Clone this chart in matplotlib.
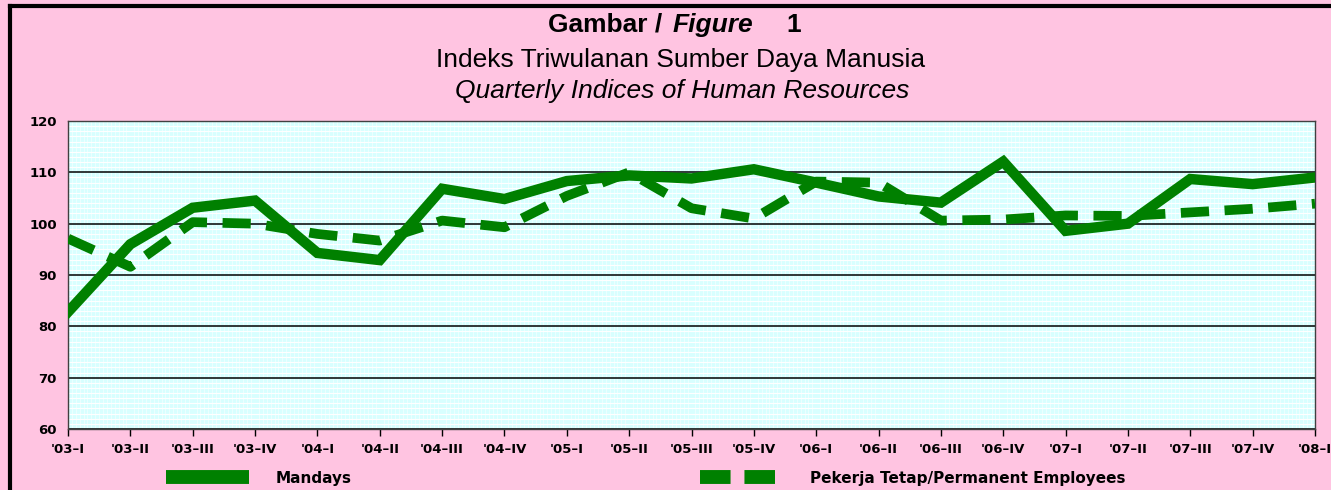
import matplotlib.pyplot as plt
from matplotlib.lines import Line2D
import numpy as np

# quarter labels on the x axis
quarters = ["'03–I", "'03–II", "'03–III", "'03–IV", "'04–I", "'04–II", "'04–III", "'04–IV",
            "'05–I", "'05–II", "'05–III", "'05–IV", "'06–I", "'06–II", "'06–III", "'06–IV",
            "'07–I", "'07–II", "'07–III", "'07–IV", "'08–I"]

mandays = [82.8, 96.0, 103.1, 104.5, 94.3, 92.9, 106.8, 104.8, 108.3, 109.4, 108.8,
           110.6, 108.0, 105.3, 104.1, 112.1, 98.6, 100.0, 108.7, 107.7, 109.0]
permanent = [97.1, 91.6, 100.3, 100.0, 98.0, 96.7, 100.6, 99.3, 105.4, 110.0, 103.0,
             101.0, 108.2, 108.0, 100.6, 100.8, 101.6, 101.5, 102.2, 102.9, 103.9]

pink = '#ffc4e1'
cyan = '#d8ffff'
green = '#008000'

fig = plt.figure(figsize=(13.31, 4.9), dpi=100, facecolor=pink)
ax = fig.add_axes([68/1331, 1-429/490, (1315-68)/1331, (429-121)/490])
ax.set_facecolor(cyan)

x = np.arange(len(quarters))
ax.plot(x, mandays, color=green, linewidth=7.5, solid_joinstyle='miter', zorder=4)
ax.plot(x, permanent, color=green, linewidth=7, dashes=(2.9, 1.6), zorder=3)

ax.set_xlim(0, len(quarters)-1)
ax.set_ylim(60, 120)
ax.set_yticks(range(60, 121, 10))
ax.set_xticks(x)
ax.set_xticklabels(quarters)

# fine white background grid + black major lines
ax.set_yticks(np.arange(60, 120, 1), minor=True)
ax.set_xticks(np.arange(0, 20, 1/16), minor=True)
ax.grid(which='minor', axis='y', color='white', linewidth=0.8)
ax.grid(which='minor', axis='x', color='white', linewidth=0.5, alpha=0.7)
ax.grid(which='major', axis='y', color='black', linewidth=1.1)
ax.tick_params(which='minor', length=0)
ax.set_axisbelow(True)

for lab in ax.get_xticklabels() + ax.get_yticklabels():
    lab.set_fontfamily('DejaVu Sans')
    lab.set_fontweight('bold')
    lab.set_fontsize(9.5)
ax.tick_params(axis='x', which='major', length=5, width=1, pad=5, direction='out')
ax.tick_params(axis='y', which='major', length=0, pad=8)
for s in ax.spines.values():
    s.set_color('#404040')
    s.set_linewidth(1)

# titles
fy = lambda py: 1 - py/490
fx = lambda px: px/1331
fig.text(fx(548), fy(32), 'Gambar / ', fontsize=19, fontweight='bold',
         family='Liberation Sans', va='baseline')
fig.text(fx(673), fy(32), 'Figure', fontsize=19, fontweight='bold', style='italic',
         family='Liberation Sans', va='baseline')
fig.text(fx(786), fy(32), '1', fontsize=19, fontweight='bold',
         family='Liberation Sans', va='baseline')
fig.text(fx(681), fy(67), 'Indeks Triwulanan Sumber Daya Manusia', fontsize=19,
         family='Liberation Sans', ha='center', va='baseline')
fig.text(fx(682), fy(98), 'Quarterly Indices of Human Resources', fontsize=19,
         family='Liberation Sans', style='italic', ha='center', va='baseline')

# legend, one entry on each side
h1 = Line2D([], [], color=green, linewidth=10, solid_capstyle='butt')
h2 = Line2D([], [], color=green, linewidth=10, dashes=(2.2, 1.0), dash_capstyle='butt')
lkw = dict(frameon=False, borderpad=0, borderaxespad=0, handlelength=5.4, handletextpad=1.8,
           prop={'family': 'DejaVu Sans', 'weight': 'bold', 'size': 11}, loc='center left')
fig.legend([h1], ['Mandays'], bbox_to_anchor=(fx(166), fy(478)), **lkw)
fig.legend([h2], ['Pekerja Tetap/Permanent Employees'], bbox_to_anchor=(fx(700), fy(478)), **lkw)

# black frame on left and top of the picture
fig.add_artist(Line2D([fx(10), fx(10)], [0, fy(6)], color='black', linewidth=3))
fig.add_artist(Line2D([fx(10), 1], [fy(6), fy(6)], color='black', linewidth=3))

fig.savefig('out.png', dpi=100, facecolor=pink)
